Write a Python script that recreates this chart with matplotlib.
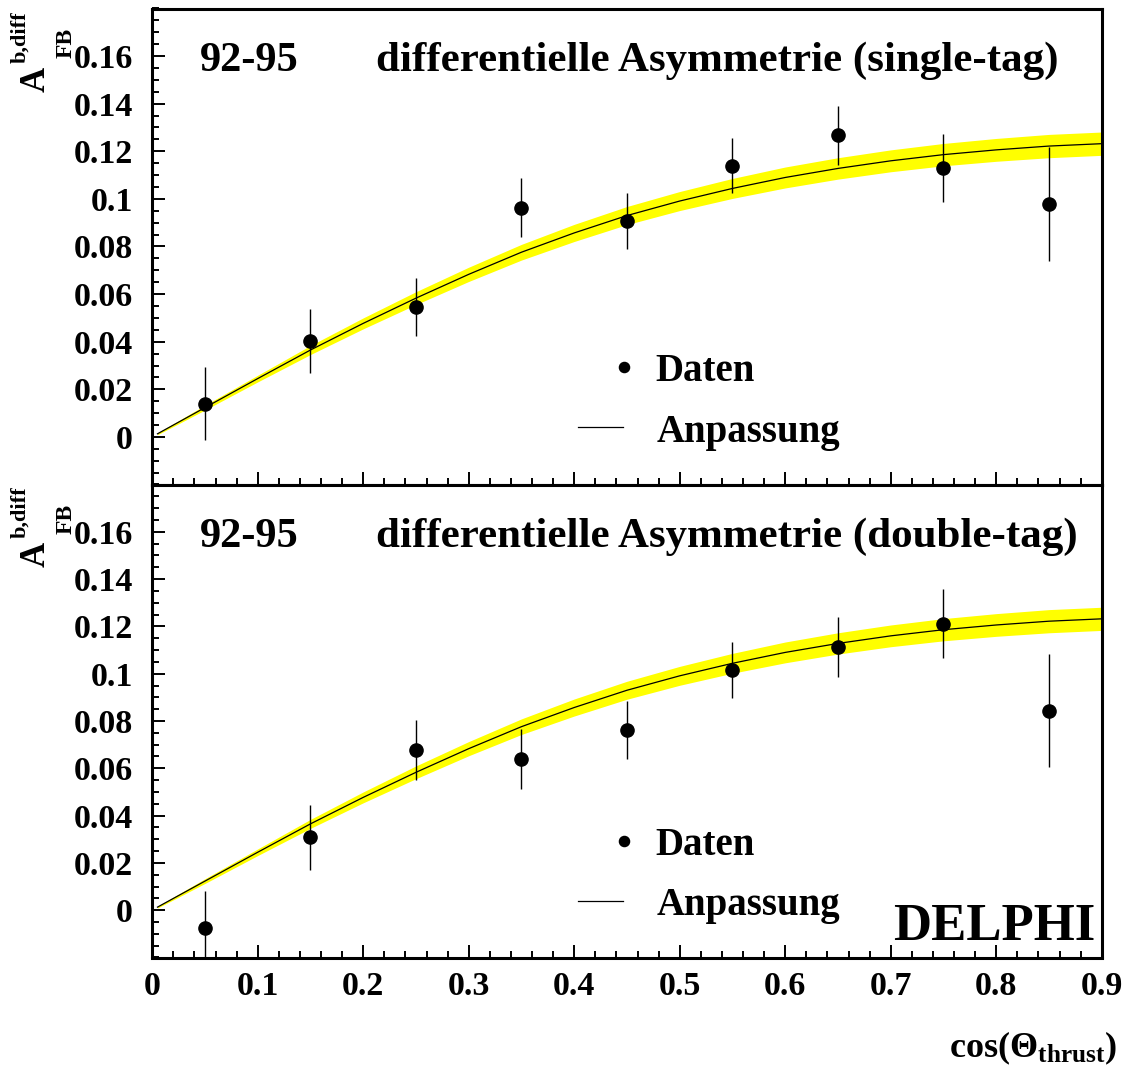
import numpy as np
import matplotlib
matplotlib.use("Agg")
import matplotlib.pyplot as plt
from matplotlib.lines import Line2D
from matplotlib.ticker import MultipleLocator

plt.rcParams['font.family'] = ['Liberation Serif', 'DejaVu Serif']
plt.rcParams['font.weight'] = 'bold'
plt.rcParams['mathtext.fontset'] = 'custom'
plt.rcParams['mathtext.rm'] = 'Liberation Serif:bold'
plt.rcParams['mathtext.it'] = 'Liberation Serif:bold:italic'
plt.rcParams['mathtext.bf'] = 'Liberation Serif:bold'

# ---------------- data ----------------
cos_bins = [0.05, 0.15, 0.25, 0.35, 0.45, 0.55, 0.65, 0.75, 0.85]

afb_single = [0.0140, 0.0404, 0.0544, 0.0963, 0.0908, 0.1140, 0.1268, 0.1130, 0.0977]
err_single = [0.0153, 0.0135, 0.0122, 0.0124, 0.0117, 0.0115, 0.0124, 0.0143, 0.0240]

afb_double = [-0.0077, 0.0308, 0.0678, 0.0639, 0.0762, 0.1016, 0.1113, 0.1211, 0.0843]
err_double = [0.0157, 0.0138, 0.0126, 0.0128, 0.0122, 0.0120, 0.0126, 0.0146, 0.0239]

fit_x = [0.005, 0.05, 0.10, 0.15, 0.20, 0.25, 0.30, 0.35, 0.40, 0.45,
         0.50, 0.55, 0.60, 0.65, 0.70, 0.75, 0.80, 0.85, 0.90]
fit_y = [0.0013, 0.0123, 0.0245, 0.0365, 0.0477, 0.0583, 0.0683, 0.0776, 0.0857, 0.0930,
         0.0991, 0.1044, 0.1090, 0.1128, 0.1160, 0.1186, 0.1206, 0.1222, 0.1232]
fit_band = [0.0004, 0.0010, 0.0014, 0.0019, 0.0023, 0.0027, 0.0030, 0.0033, 0.0036, 0.0038,
            0.0040, 0.0042, 0.0044, 0.0045, 0.0046, 0.0047, 0.0048, 0.0049, 0.0049]

y_ticks = [0, 0.02, 0.04, 0.06, 0.08, 0.1, 0.12, 0.14, 0.16]
y_ticklabels = ['0', '0.02', '0.04', '0.06', '0.08', '0.1', '0.12', '0.14', '0.16']
x_ticks = [0, 0.1, 0.2, 0.3, 0.4, 0.5, 0.6, 0.7, 0.8, 0.9]
x_ticklabels = ['0', '0.1', '0.2', '0.3', '0.4', '0.5', '0.6', '0.7', '0.8', '0.9']

titles = ['differentielle Asymmetrie (single-tag)', 'differentielle Asymmetrie (double-tag)']
period = '92-95'
legend_labels = ['Daten', 'Anpassung']

# ---------------- layout ----------------
W, H = 1127, 1066
fig = plt.figure(figsize=(W / 100, H / 100), dpi=100)


def fx(px):
    return px / W


def fy(py):
    return 1 - py / H


left_px, right_px = 152.2, 1101.7
panels = [(8.5, 484.5), (484.5, 957.5)]
axes = []
for (t, b) in panels:
    ax = fig.add_axes([fx(left_px), fy(b), (right_px - left_px) / W, (b - t) / H])
    axes.append(ax)

fit_x_a = np.array(fit_x)
fit_y_a = np.array(fit_y)
fit_b_a = np.array(fit_band)

datasets = [(afb_single, err_single), (afb_double, err_double)]

for i, ax in enumerate(axes):
    vals, errs = datasets[i]
    ax.fill_between(fit_x_a, fit_y_a - fit_b_a, fit_y_a + fit_b_a,
                    color='#ffff00', lw=0, zorder=1)
    ax.plot(fit_x_a, fit_y_a, color='black', lw=0.9, zorder=2)
    ax.errorbar(cos_bins, vals, yerr=errs, fmt='o', color='black', ms=9.5,
                elinewidth=1.0, capsize=0, zorder=3)
    ax.set_xlim(0, 0.9)
    ax.set_ylim(-0.02, 0.18)
    ax.set_yticks(y_ticks)
    ax.set_yticklabels(y_ticklabels)
    ax.yaxis.set_minor_locator(MultipleLocator(0.005))
    ax.set_xticks(x_ticks)
    ax.set_xticklabels(x_ticklabels)
    ax.xaxis.set_minor_locator(MultipleLocator(0.02))
    ax.tick_params(axis='both', which='both', direction='in', top=False, right=False,
                   width=1.4, labelsize=24.5)
    ax.tick_params(axis='both', which='major', length=9.5)
    ax.tick_params(axis='both', which='minor', length=5)
    ax.tick_params(axis='y', pad=14)
    ax.tick_params(axis='x', pad=10)
    for sp in ax.spines.values():
        sp.set_linewidth(2.2)
    for lab in ax.get_xticklabels() + ax.get_yticklabels():
        lab.set_fontweight('bold')
    if i == 0:
        ax.tick_params(axis='x', labelbottom=False)

    # titles
    ax.text(0.0503, 0.868, period, transform=ax.transAxes, fontsize=30.5,
            fontweight='bold', ha='left', va='baseline')
    ax.text(0.2357, 0.868, titles[i], transform=ax.transAxes, fontsize=31,
            fontweight='bold', ha='left', va='baseline')

    # legend (manual placement)
    ax.add_line(Line2D([0.4972], [0.2468], marker='o', ms=7.3, color='black',
                       ls='none', transform=ax.transAxes, clip_on=False))
    ax.text(0.5295, 0.2174, legend_labels[0], transform=ax.transAxes, fontsize=28,
            fontweight='bold', ha='left', va='baseline')
    ax.add_line(Line2D([0.4487, 0.4961], [0.1202, 0.1202], color='black', lw=0.9,
                       transform=ax.transAxes, clip_on=False))
    ax.text(0.5313, 0.0893, legend_labels[1], transform=ax.transAxes, fontsize=28,
            fontweight='bold', ha='left', va='baseline')

    # y axis label A^{b,diff}_{FB}, built from pieces
    off = 0 if i == 0 else 475
    fig.text(fx(45), fy(91.7 + off), 'A', rotation=90, rotation_mode='anchor',
             ha='left', va='baseline', fontsize=25, fontweight='bold')
    fig.text(fx(25), fy(63 + off), 'b,diff', rotation=90, rotation_mode='anchor',
             ha='left', va='baseline', fontsize=16, fontweight='bold')
    fig.text(fx(72), fy(58.5 + off), 'FB', rotation=90, rotation_mode='anchor',
             ha='left', va='baseline', fontsize=17, fontweight='bold')

# DELPHI label
axes[1].text(0.9929, 0.037, 'DELPHI', transform=axes[1].transAxes, fontsize=38,
             fontweight='bold', ha='right', va='baseline')

# x-axis label
fig.text(fx(1117), fy(1057), r'$\mathrm{cos(\Theta_{thrust})}$', fontsize=26,
         ha='right', va='baseline')

fig.savefig('out.png', dpi=100)
